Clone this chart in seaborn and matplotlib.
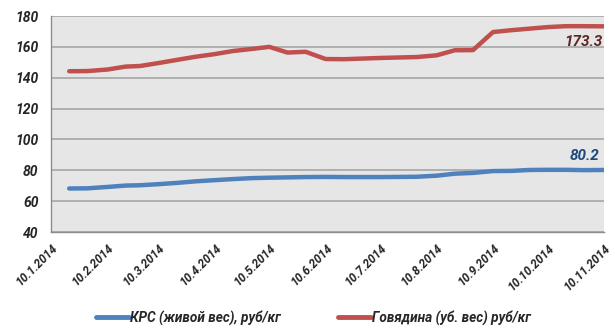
import pandas as pd
import numpy as np
import matplotlib
matplotlib.use("Agg")
import matplotlib.pyplot as plt
import seaborn as sns
from matplotlib.lines import Line2D

dates = ["2014-01-20", "2014-01-30", "2014-02-10", "2014-02-20", "2014-02-28",
         "2014-03-10", "2014-03-20", "2014-03-30", "2014-04-10", "2014-04-20",
         "2014-04-30", "2014-05-10", "2014-05-20", "2014-05-30", "2014-06-10",
         "2014-06-20", "2014-06-30", "2014-07-10", "2014-07-20", "2014-07-30",
         "2014-08-10", "2014-08-20", "2014-08-30", "2014-09-10", "2014-09-20",
         "2014-09-30", "2014-10-10", "2014-10-20", "2014-10-30", "2014-11-10"]

krs = [68.2, 68.3, 69.2, 70.1, 70.3, 71.0, 71.8, 72.8, 73.6, 74.3,
       74.9, 75.2, 75.4, 75.6, 75.7, 75.6, 75.6, 75.6, 75.7, 75.8,
       76.5, 77.8, 78.3, 79.5, 79.6, 80.2, 80.3, 80.3, 80.1, 80.2]

beef = [144.2, 144.3, 145.3, 147.2, 147.6, 149.5, 151.5, 153.5, 155.3, 157.3,
        158.6, 160.0, 156.3, 156.8, 152.1, 152.0, 152.4, 152.8, 153.1, 153.4,
        154.5, 157.8, 157.9, 169.6, 170.8, 171.8, 172.8, 173.4, 173.4, 173.3]

series_names = ["КРС (живой вес), руб/кг", "Говядина (уб. вес) руб/кг"]
series_colors = ["#4F81BD", "#C0504D"]
label_colors = ["#1F497D", "#632523"]

tick_dates = ["2014-01-10", "2014-02-10", "2014-03-10", "2014-04-10", "2014-05-10",
              "2014-06-10", "2014-07-10", "2014-08-10", "2014-09-10", "2014-10-10",
              "2014-11-10"]
tick_labels = ["10.1.2014", "10.2.2014", "10.3.2014", "10.4.2014", "10.5.2014",
               "10.6.2014", "10.7.2014", "10.8.2014", "10.9.2014", "10.10.2014",
               "10.11.2014"]
y_ticks = [40, 60, 80, 100, 120, 140, 160, 180]

df = pd.DataFrame({
    "date": pd.to_datetime(dates * 2),
    "value": krs + beef,
    "series": [series_names[0]] * len(dates) + [series_names[1]] * len(dates),
})

sns.set_style("white")
plt.rcParams['font.family'] = ['Roboto', 'DejaVu Sans']

fig = plt.figure(figsize=(6.15, 3.34), dpi=100)
ax = fig.add_axes([51 / 615, 1 - 232 / 334, 553 / 615, 216 / 334])
ax.set_facecolor("#E6E6E6")

sns.lineplot(data=df, x="date", y="value", hue="series",
             palette=dict(zip(series_names, series_colors)),
             linewidth=3.2, ax=ax, legend=False, solid_capstyle="round")

font_kw = dict(fontweight="bold", fontstyle="italic")
ax.set_ylim(40, 180)
ax.set_xlim(pd.Timestamp(tick_dates[0]), pd.Timestamp(tick_dates[-1]))
ax.set_yticks(y_ticks)
ax.set_yticklabels([str(v) for v in y_ticks], fontsize=10, **font_kw)
ax.set_xticks(pd.to_datetime(tick_dates))
ax.set_xticklabels(tick_labels, rotation=45, ha="right", rotation_mode="anchor",
                   fontsize=8.6, **font_kw)
ax.yaxis.grid(True, color="#A6A6A6", linewidth=1.2)
ax.set_axisbelow(True)
ax.set_xlabel("")
ax.set_ylabel("")
for s in ["top", "right"]:
    ax.spines[s].set_visible(False)
for s in ["left", "bottom"]:
    ax.spines[s].set_color("#8C8C8C")
    ax.spines[s].set_linewidth(1)
ax.tick_params(axis="both", which="both", length=5, color="#8C8C8C",
               direction="out", pad=3)
ax.tick_params(axis="y", pad=4)
ax.tick_params(axis="x", pad=2)

last = pd.Timestamp(dates[-1])
ax.annotate(f"{beef[-1]:.1f}", xy=(last, beef[-1]), xytext=(-1, -6),
            textcoords="offset points", ha="right", va="top",
            fontsize=11, color=label_colors[1], **font_kw)
ax.annotate(f"{krs[-1]:.1f}", xy=(last, krs[-1]), xytext=(-3, 5),
            textcoords="offset points", ha="right", va="bottom",
            fontsize=11, color=label_colors[0], **font_kw)

handles = [Line2D([0], [0], color=c, linewidth=3.5) for c in series_colors]
fig.legend(handles, series_names, loc="center", bbox_to_anchor=(0.51, 1 - 318 / 334),
           ncol=2, frameon=False, handlelength=2.4, handletextpad=0.1,
           columnspacing=4.2, prop={"weight": "bold", "style": "italic", "size": 9.8})

fig.savefig("out.png", dpi=100, facecolor="white")
